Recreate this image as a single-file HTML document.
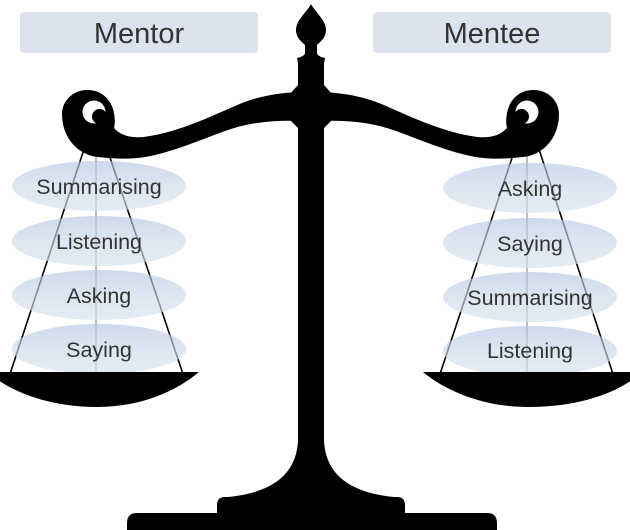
<!DOCTYPE html>
<html>
<head>
<meta charset="utf-8">
<style>
  html, body { margin:0; padding:0; background:#ffffff; }
  body { width:630px; height:530px; overflow:hidden; }
  svg { display:block; }
  text { font-family: "Liberation Sans", Arial, sans-serif; }
</style>
</head>
<body>
<svg width="630" height="530" viewBox="0 0 630 530" xmlns="http://www.w3.org/2000/svg">
  <defs>
    <linearGradient id="eg" x1="0" y1="0" x2="0" y2="1">
      <stop offset="0" stop-color="#b3c6e2"/>
      <stop offset="0.5" stop-color="#ccd9ec"/>
      <stop offset="1" stop-color="#d8e2f0"/>
    </linearGradient>
  </defs>

  <!-- Header boxes -->
  <rect x="20" y="12" width="238" height="41" rx="4" fill="#dde3ee"/>
  <text x="139" y="43" font-size="29" fill="#333333" text-anchor="middle">Mentor</text>
  <rect x="373" y="12" width="238" height="41" rx="4" fill="#dde3ee"/>
  <text x="492" y="43" font-size="29" fill="#333333" text-anchor="middle">Mentee</text>

  <!-- Strings left -->
  <line x1="93" y1="122" x2="10" y2="374" stroke="#000" stroke-width="1.6"/>
  <line x1="96" y1="122" x2="96" y2="374" stroke="#8a8f99" stroke-width="1.2"/>
  <line x1="98" y1="122" x2="183" y2="374" stroke="#000" stroke-width="1.6"/>
  <!-- Strings right -->
  <line x1="524" y1="122" x2="440" y2="374" stroke="#000" stroke-width="1.6"/>
  <line x1="527" y1="122" x2="527" y2="374" stroke="#8a8f99" stroke-width="1.2"/>
  <line x1="530" y1="122" x2="613" y2="374" stroke="#000" stroke-width="1.6"/>

  <!-- Ellipses -->
  <g fill="url(#eg)" opacity="0.65">
    <ellipse cx="99" cy="186" rx="87" ry="25"/>
    <ellipse cx="99" cy="241" rx="87" ry="25"/>
    <ellipse cx="99" cy="295" rx="87" ry="25"/>
    <ellipse cx="99" cy="349" rx="87" ry="25"/>
    <ellipse cx="530" cy="188" rx="87" ry="25"/>
    <ellipse cx="530" cy="243" rx="87" ry="25"/>
    <ellipse cx="530" cy="297" rx="87" ry="25"/>
    <ellipse cx="530" cy="351" rx="87" ry="25"/>
  </g>

  <!-- Labels -->
  <g font-size="21.5" fill="#333333" text-anchor="middle">
    <text x="99" y="194">Summarising</text>
    <text x="99" y="249">Listening</text>
    <text x="99" y="303">Asking</text>
    <text x="99" y="357">Saying</text>
    <text x="530" y="196">Asking</text>
    <text x="530" y="251">Saying</text>
    <text x="530" y="305">Summarising</text>
    <text x="530" y="358">Listening</text>
  </g>

  <!-- Pans -->
  <path d="M -2,372 L 199,372 C 175,392 140,407 97,407 C 55,407 20,395 -2,380 Z" fill="#000"/>
  <path d="M 423,372 L 632,372 L 632,380 C 610,395 575,407 528,407 C 485,407 447,392 423,372 Z" fill="#000"/>

  <!-- Left beam with scroll -->
  <g>
    <path d="M 300,92 C 275,93 255,97 235,106 C 210,117 180,131 150,136 C 135,139 122,137 114,128
             C 116,120 114,110 111,104 C 106,95 98,90 87,90 C 73,90 62,101 62,114
             C 62,138 78,155 98,157 C 115,159 135,160 155,155 C 180,149 200,140 225,131
             C 250,122 275,120 300,121 Z" fill="#000"/>
    <circle cx="94" cy="112" r="11.5" fill="#fff"/>
    <circle cx="99.5" cy="116.5" r="7.5" fill="#000"/>
  </g>
  <!-- Right beam mirrored -->
  <g transform="matrix(-1 0 0 1 621 0)">
    <path d="M 300,92 C 275,93 255,97 235,106 C 210,117 180,131 150,136 C 135,139 122,137 114,128
             C 116,120 114,110 111,104 C 106,95 98,90 87,90 C 73,90 62,101 62,114
             C 62,138 78,155 98,157 C 115,159 135,160 155,155 C 180,149 200,140 225,131
             C 250,122 275,120 300,121 Z" fill="#000"/>
    <circle cx="94" cy="112" r="11.5" fill="#fff"/>
    <circle cx="99.5" cy="116.5" r="7.5" fill="#000"/>
  </g>

  <!-- Post with finial, hub, base -->
  <path d="M 311,4
           C 307,12 296,20 296,30
           C 296,38 302,42 305,45
           L 305,53
           Q 305,56 297,58
           L 298,63 L 298,85 L 290,94 L 290,120 L 298,128 L 298,440
           C 297,468 280,492 228,497
           L 225,497 Q 217,497 217,505 L 217,513
           L 137,513 Q 127,513 127,523 L 127,532 L 497,532 L 497,523 Q 497,513 487,513
           L 405,513 L 405,505 Q 405,497 397,497 L 394,497
           C 342,492 325,468 324,440
           L 324,128 L 332,120 L 332,94 L 324,85 L 324,63 L 325,58
           Q 317,56 317,53 L 317,45
           C 320,42 326,38 326,30
           C 326,20 315,12 311,4 Z" fill="#000"/>
</svg>
</body>
</html>
